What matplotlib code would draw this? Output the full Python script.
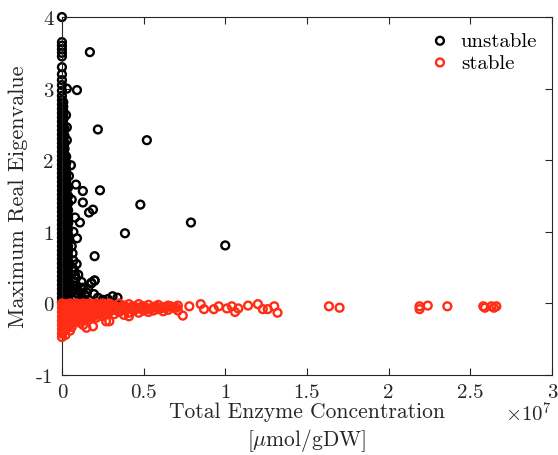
import matplotlib
matplotlib.use("Agg")
import matplotlib.pyplot as plt
import numpy as np

# unstable points (total enzyme conc in 1e7 umol/gDW, max real eigenvalue)
unstable_col0_y = [0.02, 0.08, 0.14, 0.2, 0.26, 0.32, 0.38, 0.44, 0.5, 0.56, 0.62, 0.68, 0.74, 0.8,
                   0.86, 0.92, 0.98, 1.04, 1.1, 1.16, 1.22, 1.28, 1.34, 1.4, 1.46, 1.52, 1.58, 1.64,
                   1.7, 1.76, 1.82, 1.88, 1.94, 2.0, 2.06, 2.12, 2.18, 2.24, 2.3, 2.36, 2.42, 2.48,
                   2.54, 2.6, 2.66, 2.72, 2.78, 2.84, 2.9, 2.97, 3.05, 3.12, 3.2, 3.3, 3.45, 3.5,
                   3.55, 3.6, 3.65, 4.0]
unstable_col1_y = [0.05, 0.11, 0.17, 0.23, 0.29, 0.35, 0.41, 0.47, 0.53, 0.59, 0.65, 0.71, 0.77,
                   0.83, 0.89, 0.95, 1.01, 1.07, 1.13, 1.19, 1.25, 1.31, 1.37, 1.43, 1.49, 1.55,
                   1.61, 1.67, 1.73, 1.79, 1.85, 1.91, 1.97, 2.03, 2.09, 2.15, 2.21, 2.27, 2.33,
                   2.39, 2.45, 2.51, 2.57, 2.63, 2.69, 2.75, 2.81]
unstable_col2_y = [0.04, 0.1, 0.16, 0.22, 0.28, 0.34, 0.4, 0.46, 0.52, 0.58, 0.64, 0.7, 0.76,
                   0.82, 0.88, 0.94, 1.0, 1.06, 1.12, 1.18, 1.24, 1.3, 1.36, 1.42, 1.48, 1.54,
                   1.6, 1.66, 1.72, 1.78, 1.84, 1.9, 1.96, 2.02, 2.08, 2.16, 2.24, 2.34, 2.44]
unstable_col3_y = [0.07, 0.13, 0.19, 0.25, 0.31, 0.37, 0.43, 0.49, 0.55, 0.61, 0.67, 0.73,
                   0.79, 0.85, 0.91, 0.97, 1.03, 1.09, 1.15, 1.21, 1.27, 1.33, 1.39, 1.45, 1.51,
                   1.57, 1.63, 1.69, 1.75, 1.81, 1.88, 1.96, 2.05]
unstable_col4_y = [0.1, 0.17, 0.24, 0.31, 0.38, 0.45, 0.52, 0.59, 0.66, 0.73, 0.8, 0.88, 0.96,
                   1.04, 1.12, 1.2, 1.3, 1.4, 1.5, 1.62]
unstable_x = [0.07, 0.08, 0.09, 0.1, 0.12, 0.13, 0.14, 0.16, 0.18, 0.2, 0.196, 0.153, 0.31, 0.34,
              0.28, 0.25, 0.22, 0.18, 0.2, 0.171, 0.092, 0.22, 0.03, 0.025, 0.03, 0.055, 0.043,
              0.086, 0.128, 0.233, 0.19, 0.166, 0.128, 0.11, 0.092, 0.2, 0.52, 0.48, 0.386, 0.79,
              1.0, 0.03, 0.065, 0.075, 0.085, 0.1, 0.11, 0.07, 0.06, 0.08, 0.12, 0.14,
              0.06, 0.07, 0.065, 0.075, 0.06, 0.07, 0.08, 0.09, 0.1]
unstable_y = [0.25, 0.4, 0.55, 0.18, 0.3, 0.22, 0.12, 0.2, 0.28, 0.32, 0.13, 0.15, 0.1, 0.08,
              0.06, 0.05, 0.08, 0.29, 0.32, 3.51, 2.98, 2.43, 2.28, 2.63, 2.46, 1.93, 1.78,
              1.66, 1.57, 1.58, 1.31, 1.27, 1.41, 1.13, 0.91, 0.66, 2.28, 1.38, 0.98, 1.13,
              0.81, 3.0, 0.7, 0.45, 0.35, 0.12, 0.05, 0.6, 1.45, 1.2, 0.1, 0.05,
              0.15, 0.3, 0.5, 0.2, 0.8, 1.0, 0.1, 0.25, 0.4]

# stable points
stable_x = [0.0, 0.0, 0.0, 0.0, 0.0, 0.0, 0.0, 0.0, 0.0,
            0.015, 0.015, 0.015, 0.015, 0.015, 0.015, 0.015,
            0.03, 0.03, 0.03, 0.03, 0.03, 0.03,
            0.05, 0.05, 0.05, 0.05, 0.05, 0.05, 0.05,
            0.07, 0.07, 0.07, 0.07, 0.07,
            0.09, 0.09, 0.09, 0.09, 0.09,
            0.11, 0.11, 0.11, 0.11, 0.11,
            0.13, 0.13, 0.13, 0.13, 0.13,
            0.15, 0.15, 0.15, 0.15, 0.15,
            0.17, 0.17, 0.17, 0.17,
            0.19, 0.19, 0.19, 0.19,
            0.21, 0.21, 0.21, 0.21,
            0.23, 0.23, 0.23,
            0.25, 0.25, 0.25, 0.25,
            0.27, 0.27, 0.27, 0.27,
            0.29, 0.29, 0.29, 0.29,
            0.32, 0.32, 0.32,
            0.35, 0.35, 0.35,
            0.38, 0.38, 0.38,
            0.41, 0.41, 0.41, 0.41,
            0.44, 0.44,
            0.47, 0.47, 0.47,
            0.5, 0.5,
            0.53, 0.53, 0.53,
            0.56, 0.56,
            0.59, 0.59,
            0.62, 0.62,
            0.65, 0.65,
            0.68,
            0.71, 0.71,
            0.74, 0.78, 0.85, 0.87, 0.93, 0.96, 1.01, 1.04, 1.06, 1.08, 1.14, 1.2, 1.23,
            1.26, 1.3, 1.32,
            1.635, 1.70, 2.19, 2.19, 2.24, 2.36, 2.58, 2.59, 2.63, 2.66, 2.645,
            # fill of the dense band
            0.008, 0.008, 0.008, 0.008, 0.008, 0.008,
            0.022, 0.022, 0.022, 0.022, 0.022, 0.022,
            0.04, 0.04, 0.04, 0.04, 0.04,
            0.06, 0.06, 0.06, 0.06, 0.06,
            0.08, 0.08, 0.08, 0.08,
            0.1, 0.1, 0.1, 0.1,
            0.12, 0.12, 0.12, 0.12,
            0.14, 0.14, 0.14,
            0.16, 0.16, 0.16,
            0.18, 0.18, 0.18,
            0.2, 0.2, 0.2,
            0.22, 0.22, 0.24, 0.24, 0.26, 0.26, 0.28, 0.28, 0.3, 0.3, 0.335, 0.365, 0.395,
            0.425, 0.455, 0.485, 0.515, 0.545, 0.575, 0.605, 0.635, 0.665, 0.7]
stable_y = [0.0, -0.06, -0.12, -0.18, -0.24, -0.3, -0.36, -0.42, -0.47,
            -0.02, -0.08, -0.14, -0.2, -0.26, -0.32, -0.38,
            -0.01, -0.07, -0.13, -0.19, -0.25, -0.31,
            0.0, -0.06, -0.12, -0.18, -0.24, -0.3, -0.38,
            -0.02, -0.08, -0.14, -0.2, -0.26,
            0.0, -0.06, -0.12, -0.18, -0.24,
            -0.02, -0.08, -0.14, -0.2, -0.27,
            0.0, -0.06, -0.12, -0.18, -0.3,
            -0.03, -0.09, -0.15, -0.21, -0.34,
            0.0, -0.06, -0.12, -0.19,
            -0.03, -0.09, -0.15, -0.32,
            0.0, -0.06, -0.12, -0.2,
            -0.03, -0.09, -0.15,
            0.0, -0.06, -0.12, -0.18,
            -0.03, -0.09, -0.15, -0.25,
            0.0, -0.06, -0.12, -0.25,
            -0.03, -0.09, -0.15,
            0.0, -0.06, -0.12,
            -0.03, -0.09, -0.16,
            -0.01, -0.07, -0.13, -0.18,
            -0.04, -0.1,
            -0.01, -0.07, -0.13,
            -0.04, -0.1,
            -0.02, -0.08, -0.12,
            -0.05, -0.1,
            -0.02, -0.08,
            -0.05, -0.11,
            -0.03, -0.09,
            -0.06,
            -0.03, -0.1,
            -0.17, -0.04, -0.01, -0.08, -0.08, -0.04, -0.07, -0.04, -0.12, -0.07, -0.03, -0.01,
            -0.08, -0.08, -0.04, -0.13,
            -0.04, -0.06, -0.04, -0.08, -0.03, -0.04, -0.04, -0.06, -0.04, -0.04, -0.06,
            -0.03, -0.1, -0.17, -0.24, -0.31, -0.4,
            -0.04, -0.11, -0.18, -0.25, -0.33, -0.44,
            -0.03, -0.1, -0.16, -0.22, -0.28,
            -0.04, -0.1, -0.16, -0.22, -0.33,
            -0.05, -0.11, -0.17, -0.23,
            -0.03, -0.09, -0.15, -0.21,
            -0.05, -0.11, -0.17, -0.23,
            -0.03, -0.09, -0.18,
            -0.05, -0.11, -0.17,
            -0.03, -0.09, -0.15,
            -0.05, -0.11, -0.17,
            -0.03, -0.1, -0.05, -0.11, -0.03, -0.09, -0.05, -0.11, -0.03, -0.09, -0.06, -0.05,
            -0.07, -0.05, -0.07, -0.05, -0.06, -0.07, -0.04, -0.07, -0.06, -0.04, -0.06]

xticks = [0, 0.5, 1, 1.5, 2, 2.5, 3]
xtick_labels = ["0", "0.5", "1", "1.5", "2", "2.5", "3"]
yticks = [-1, 0, 1, 2, 3, 4]
ytick_labels = ["-1", "0", "1", "2", "3", "4"]

plt.rcParams["font.family"] = "serif"
plt.rcParams["font.serif"] = ["cmr10"]
plt.rcParams["mathtext.fontset"] = "cm"
plt.rcParams["axes.unicode_minus"] = False

axcol = "#262626"
black_col = "black"
red_col = "#ff2d16"

# stack the near-zero columns of unstable points
ux = ([0.0] * len(unstable_col0_y) + [0.008] * len(unstable_col1_y) + [0.016] * len(unstable_col2_y)
      + [0.026] * len(unstable_col3_y) + [0.038] * len(unstable_col4_y) + unstable_x)
uy = unstable_col0_y + unstable_col1_y + unstable_col2_y + unstable_col3_y + unstable_col4_y + unstable_y

fig = plt.figure(figsize=(5.58, 4.56), dpi=100)
ax = fig.add_axes([0.111, 0.1754, 0.878, 0.785])

ax.scatter(np.array(ux) * 1e7, uy, s=32, facecolors="none", edgecolors=black_col,
           linewidths=1.7, label="unstable", zorder=2, clip_on=False)
ax.scatter(np.array(stable_x) * 1e7, stable_y, s=32, facecolors="none", edgecolors=red_col,
           linewidths=1.7, label="stable", zorder=3, clip_on=False)

ax.set_xlim(0, 3e7)
ax.set_ylim(-1, 4)
ax.set_xticks([t * 1e7 for t in xticks])
ax.set_xticklabels(xtick_labels)
ax.set_yticks(yticks)
ax.set_yticklabels(ytick_labels)

for sp in ax.spines.values():
    sp.set_color(axcol)
    sp.set_linewidth(0.8)
ax.tick_params(direction="in", top=True, right=True, length=5, width=0.8,
               color=axcol, labelcolor=axcol, labelsize=15, pad=6)

ax.set_xlabel("Total Enzyme Concentration\n[$\\mu$mol/gDW]", fontsize=15.5, color=axcol,
              linespacing=1.25, labelpad=0)
ax.set_ylabel("Maximum Real Eigenvalue", fontsize=16, color=axcol, labelpad=6)
ax.text(1.0, -0.105, "$\\times10^{7}$", transform=ax.transAxes, ha="right", va="center",
        fontsize=15, color=axcol)

leg = ax.legend(loc="upper right", frameon=False, fontsize=15, handlelength=1.0,
                handletextpad=0.5, borderaxespad=0.3, labelspacing=0.15, scatterpoints=1)
for t in leg.get_texts():
    t.set_color("black")

fig.savefig("out.png", dpi=100)
